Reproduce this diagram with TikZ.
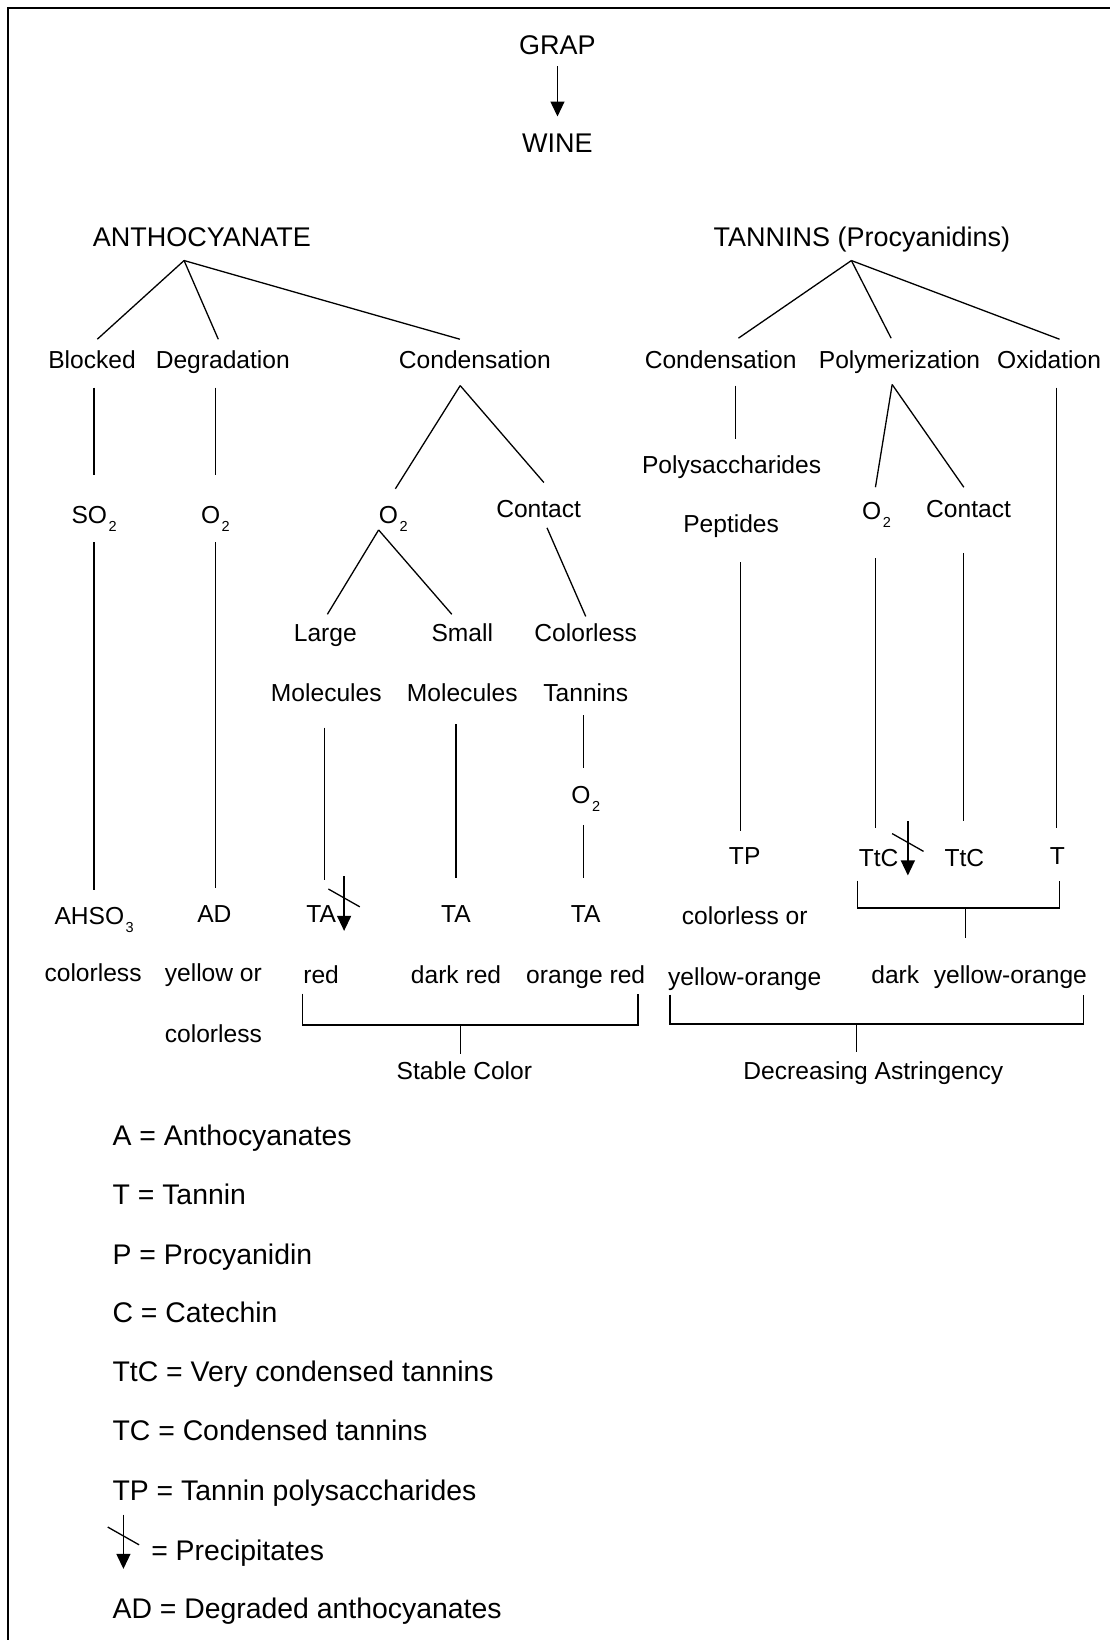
\documentclass[tikz,border=0pt]{standalone}
\usepackage{fontspec}
\setmainfont{Liberation Sans}
\usetikzlibrary{arrows.meta}
\newcommand{\chem}[1]{\kern1.5pt\raisebox{-8pt}{\fontsize{14.5}{15}\selectfont #1}}

\begin{document}
\begin{tikzpicture}[x=1.0462pt, y=-1.0462pt, line width=1.3pt,
	lbl/.style={inner sep=0pt, text height=17.7pt, text depth=5.4pt, font=\fontsize{24.6}{29}\selectfont},
	head/.style={lbl, text height=19.4pt, text depth=5.9pt, font=\fontsize{27}{32}\selectfont},
	key/.style={anchor=west, inner sep=0pt, text height=20.4pt, text depth=6.3pt, font=\fontsize{28.4}{34}\selectfont},
	down/.style={-{Triangle[width=14pt,length=15pt]}},
	precip/.pic={\draw[down] (0,0) -- (0,52); \draw (-15,12) -- (15,29);}]
	\useasboundingbox (0,0) rectangle (1061,1568);
	% frame
	\draw[line width=2.4pt] (7.6,1575) -- (7.6,7.6) -- (1070,7.6);

	% nodes
	\node[head] (grap) at (533,45.8) {GRAP};
	\node[head] (wine) at (533,139.8) {WINE};
	\node[head] (anth) at (193,228.8) {ANTHOCYANATE};
	\node[head] (tann) at (824,228.8) {TANNINS (Procyanidins)};

	\node[lbl] (blocked) at (88,346.5) {Blocked};
	\node[lbl] (degr) at (213,346.5) {Degradation};
	\node[lbl] (condA) at (454,346.5) {Condensation};
	\node[lbl] (so2) at (90,494.5) {SO\chem{2}};
	\node[lbl] (o2a) at (206,494.5) {O\chem{2}};
	\node[lbl] (o2b) at (376,494.5) {O\chem{2}};
	\node[lbl] (contactA) at (515,488.5) {Contact};
	\node[lbl] (large) at (311,607.5) {Large};
	\node[lbl] (molA) at (312,664.5) {Molecules};
	\node[lbl] (small) at (442,607.5) {Small};
	\node[lbl] (molB) at (442,664.5) {Molecules};
	\node[lbl] (colorlessT) at (560,607.5) {Colorless};
	\node[lbl] (tanninsT) at (560,664.5) {Tannins};
	\node[lbl] (o2c) at (560,762.5) {O\chem{2}};
	\node[lbl] (ahso3) at (90,878.5) {AHSO\chem{3}};
	\node[lbl] (ad) at (205,876.5) {AD};
	\node[lbl] (taA) at (307,876.5) {TA};
	\node[lbl] (taB) at (436,876.5) {TA};
	\node[lbl] (taC) at (560,876.5) {TA};
	\node[lbl] (colA) at (89,932.5) {colorless};
	\node[lbl] (yellowor) at (204,932.5) {yellow or};
	\node[lbl] (colB) at (204,990.5) {colorless};
	\node[lbl] (redA) at (307,934.5) {red};
	\node[lbl] (darkred) at (436,934.5) {dark red};
	\node[lbl] (orangered) at (560,934.5) {orange red};
	\node[lbl] (stable) at (444,1026.5) {Stable Color};

	\node[lbl] (condB) at (689,346.5) {Condensation};
	\node[lbl] (polym) at (860,346.5) {Polymerization};
	\node[lbl] (oxid) at (1003,346.5) {Oxidation};
	\node[lbl] (polys) at (699.5,446.5) {Polysaccharides};
	\node[lbl] (pept) at (699,503.5) {Peptides};
	\node[lbl] (o2d) at (838,490.5) {O\chem{2}};
	\node[lbl] (contactB) at (926,488.5) {Contact};
	\node[lbl] (tp) at (712,820.5) {TP};
	\node[lbl] (ttcA) at (840,822.5) {TtC};
	\node[lbl] (ttcB) at (922,822.5) {TtC};
	\node[lbl] (tT) at (1011,820.5) {T};
	\node[lbl] (colorlessor) at (712,878.5) {colorless or};
	\node[lbl] (yoA) at (712,936.5) {yellow-orange};
	\node[lbl] (dark) at (856,934.5) {dark};
	\node[lbl] (yoB) at (966,934.5) {yellow-orange};
	\node[lbl] (decr) at (835,1026.5) {Decreasing Astringency};

	% legend
	\node[key] (keyA) at (107,1088.9) {A = Anthocyanates};
	\node[key] (keyT) at (107,1144.9) {T = Tannin};
	\node[key] (keyP) at (107,1201.9) {P = Procyanidin};
	\node[key] (keyC) at (107,1257.9) {C = Catechin};
	\node[key] (keyTtC) at (107,1313.9) {TtC = Very condensed tannins};
	\node[key] (keyTC) at (107,1370.9) {TC = Condensed tannins};
	\node[key] (keyTP) at (107,1427.9) {TP = Tannin polysaccharides};
	\node[key] (keyPr) at (144,1484.9) {= Precipitates};
	\node[key] (keyAD) at (107,1540.9) {AD = Degraded anthocyanates};

	% branch points
	\coordinate (anthroot) at ([shift={(-17,7.6)}]anth.south);
	\coordinate (tannroot) at ([shift={(-10,7.6)}]tann.south);
	\coordinate (condroot) at ([shift={(-14,10.5)}]condA.south);
	\coordinate (o2root) at ([shift={(-14,0.5)}]o2b.south);
	\coordinate (polyroot) at ([shift={(-7,9.5)}]polym.south);

	% edges
	\draw[down] ([shift={(0,5)}]grap.south) -- ([shift={(0,-15.7)}]wine.north);

	\draw (anthroot) -- ([shift={(5,-10.5)}]blocked.north);
	\draw (anthroot) -- ([shift={(-4.3,-10.5)}]degr.north);
	\draw (anthroot) -- ([shift={(-14.3,-10.5)}]condA.north);
	\draw ([shift={(2,12.5)}]blocked.south) -- ([shift={(0,-28.5)}]so2.north);
	\draw ([shift={(0,12.5)}]so2.south) -- ([shift={(0,-15.5)}]ahso3.north);
	\draw ([shift={(-7,12.5)}]degr.south) -- ([shift={(0,-28.5)}]o2a.north);
	\draw ([shift={(0,12.5)}]o2a.south) -- ([shift={(1,-15.5)}]ad.north);
	\draw (condroot) -- ([shift={(2,-15.5)}]o2b.north);
	\draw (condroot) -- ([shift={(5,-15.5)}]contactA.north);
	\draw (o2root) -- ([shift={(2,-8.5)}]large.north);
	\draw (o2root) -- ([shift={(-10,-8.5)}]small.north);
	\draw ([shift={(8,4.5)}]contactA.south) -- ([shift={(0,-6.5)}]colorlessT.north);
	\draw ([shift={(-2,19.5)}]molA.south) -- ([shift={(3,-23.5)}]taA.north);
	\draw ([shift={(-6,16.5)}]molB.south) -- ([shift={(0,-25.5)}]taB.north);
	\draw ([shift={(-2,7.5)}]tanninsT.south) -- ([shift={(-2,-16.5)}]o2c.north);
	\draw ([shift={(-2,14.5)}]o2c.south) -- ([shift={(-2,-25.5)}]taC.north);

	\draw (tannroot) -- ([shift={(17,-11.5)}]condB.north);
	\draw (tannroot) -- ([shift={(-8,-11.5)}]polym.north);
	\draw (tannroot) -- ([shift={(10,-10.5)}]oxid.north);
	\draw ([shift={(14.5,10.5)}]condB.south) -- ([shift={(4,-15)}]polys.north);
	\draw ([shift={(9,22.5)}]pept.south) -- ([shift={(-4,-14.5)}]tp.north);
	\draw (polyroot) -- ([shift={(-1,-13)}]o2d.north);
	\draw (polyroot) -- ([shift={(-4.5,-11)}]contactB.north);
	\draw ([shift={(-1,31.5)}]o2d.south) -- ([shift={(-3,-19.5)}]ttcA.north);
	\draw ([shift={(-4.5,28.5)}]contactB.south) -- ([shift={(-0.5,-25.5)}]ttcB.north);
	\draw ([shift={(7,12.5)}]oxid.south) -- ([shift={(-1,-17.5)}]tT.north);

	% precipitates
	\pic at (329,838) {precip};
	\pic at (868,785) {precip};
	\pic at (118,1448) {precip};

	% brackets
	\coordinate (stabL) at (289,950);
	\coordinate (stabR) at (610,950);
	\coordinate (stabM) at (440,980);
	\draw (stabL) -- ++(0,30) -| (stabR);
	\draw (stabM) -- ([shift={(-4,-7.5)}]stable.north);

	\coordinate (ttcL) at (820,842);
	\coordinate (ttcR) at (1013,842);
	\coordinate (ttcM) at (923,868);
	\coordinate (darkjoin) at (923,897);
	\draw (ttcL) -- ++(0,26) -| (ttcR);
	\draw (ttcM) -- (darkjoin);

	\coordinate (astL) at (640.5,951);
	\coordinate (astR) at (1036,951);
	\coordinate (astM) at (819,979);
	\draw (astL) -- ++(0,28) -| (astR);
	\draw (astM) -- ([shift={(-16,-9.5)}]decr.north);
\end{tikzpicture}
\end{document}
